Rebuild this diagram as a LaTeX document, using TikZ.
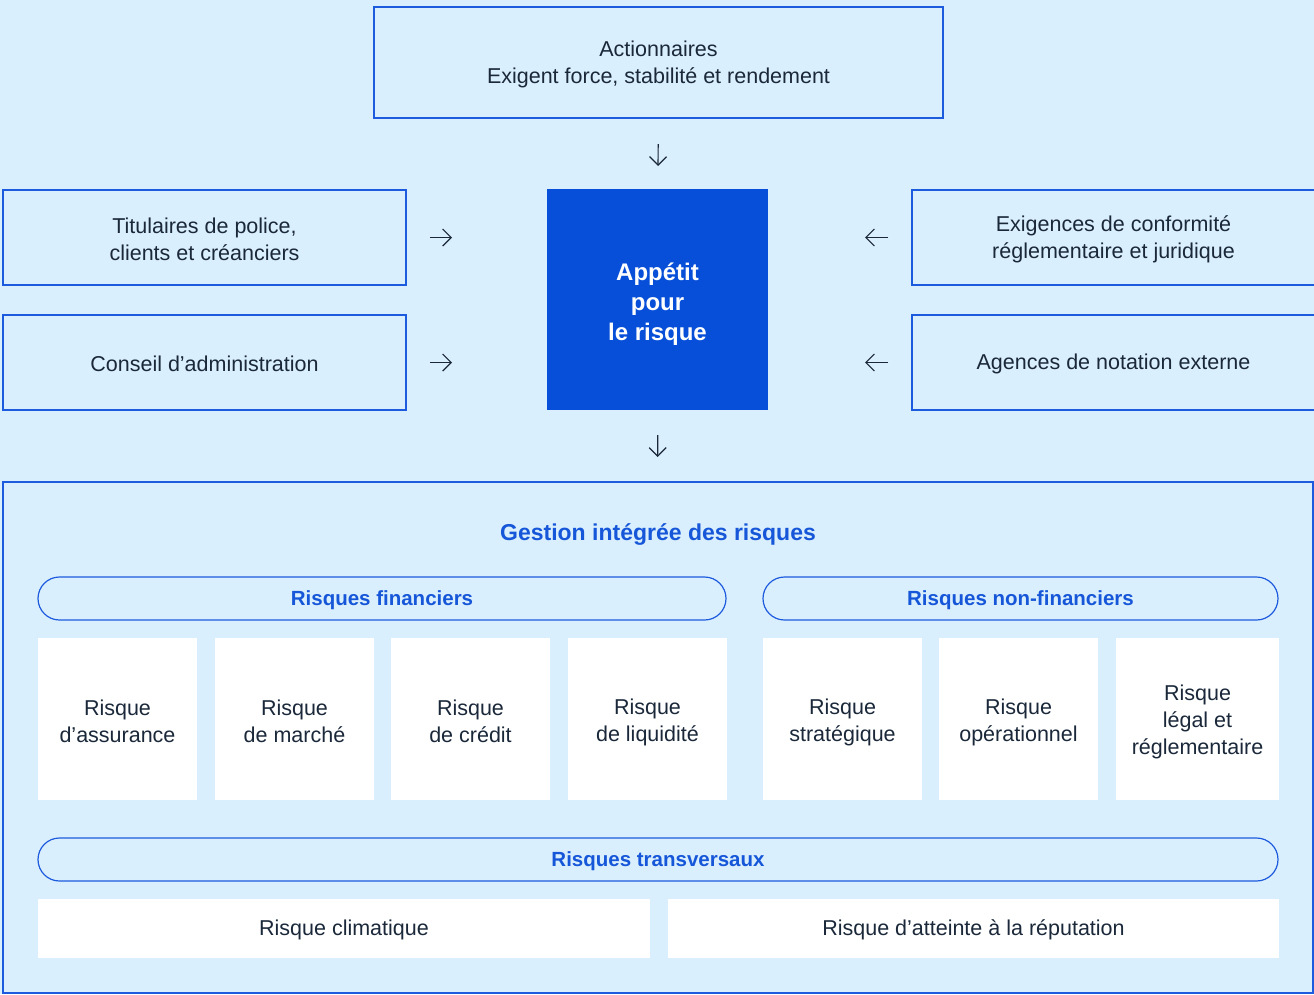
\documentclass[tikz,border=0pt]{standalone}
\usepackage{fontspec}
\setmainfont{Liberation Sans}
\usetikzlibrary{arrows.meta}
\definecolor{bgc}{RGB}{218,239,253}
\definecolor{bordc}{RGB}{28,90,222}
\definecolor{centc}{RGB}{7,79,216}
\definecolor{titc}{RGB}{22,86,216}
\definecolor{txtc}{RGB}{26,40,58}
\tikzset{
  box/.style={draw=bordc, line width=1.2pt, fill=bgc, inner sep=0pt, outer sep=0pt},
  centre/.style={fill=centc, inner sep=0pt, outer sep=0pt},
  pill/.style={draw=bordc, line width=1.2pt, fill=bgc, rounded corners=21.5pt, inner sep=0pt, outer sep=0pt},
  wbox/.style={fill=white, inner sep=0pt, outer sep=0pt},
  btext/.style={inner sep=0pt, align=center, text=txtc, font=\fontsize{21.5}{27}\selectfont},
  ctext/.style={inner sep=0pt, align=center, text=white, font=\fontsize{24}{30}\selectfont\bfseries},
  ptext/.style={inner sep=0pt, text=titc, font=\fontsize{20.5}{26}\selectfont\bfseries},
  arr/.style={draw=txtc, line width=1.2pt, -{Straight Barb[length=8.5pt,width=17pt,line width=1.2pt]}},
}
\begin{document}
\begin{tikzpicture}[x=1pt,y=-1pt]
\useasboundingbox (0,0) rectangle (1314,994);
\fill[bgc] (0,0) rectangle (1314,994);
% top
\node[box, minimum width=569pt, minimum height=111pt] (act) at (658.5,62.5) {};
\node[btext] (act-t) at ([yshift=-2pt]act.center) {Actionnaires\\Exigent force, stabilité et rendement};
\node[centre, minimum width=221pt, minimum height=221pt] (app) at (657.5,299.5) {};
\node[ctext] (app-t) at ([yshift=-5pt]app.center) {Appétit\\pour\\le risque};
\node[box, minimum width=403pt, minimum height=95pt] (tit) at (204.5,237.5) {};
\node[btext] (tit-t) at ([yshift=-1.5pt]tit.center) {Titulaires de police,\\clients et créanciers};
\node[box, minimum width=403pt, minimum height=95pt] (cons) at (204.5,362.5) {};
\node[btext] (cons-t) at ([yshift=-1pt]cons.center) {Conseil d’administration};
\node[box, minimum width=403pt, minimum height=95pt] (exi) at (1113.5,237.5) {};
\node[btext] (exi-t) at ([yshift=-2pt]exi.center) {Exigences de conformité\\réglementaire et juridique};
\node[box, minimum width=403pt, minimum height=95pt] (age) at (1113.5,362.5) {};
\node[btext] (age-t) at ([yshift=-1pt]age.center) {Agences de notation externe};
% container
\node[box, minimum width=1310pt, minimum height=511pt] (gest) at (658,737.5) {};
\node[text=titc, inner sep=0pt, font=\fontsize{23}{26}\selectfont\bfseries] (gtit) at (658,534) {Gestion intégrée des risques};
% arrows
\draw[arr, shorten <=26pt, shorten >=23pt] (act) -- (app);
\draw[arr, shorten <=25pt, shorten >=25pt] (app) -- (gest);
\draw[arr, shorten <=24pt, shorten >=95pt] (tit) -- (app.west |- tit);
\draw[arr, shorten <=24pt, shorten >=95pt] (cons) -- (app.west |- cons);
\draw[arr, shorten <=24pt, shorten >=97pt] (exi) -- (app.east |- exi);
\draw[arr, shorten <=24pt, shorten >=97pt] (age) -- (app.east |- age);
% pills
\node[pill, minimum width=688pt, minimum height=43pt] (fin) at (382,598.5) {};
\node[ptext] (fin-t) at ([yshift=-1.5pt]fin.center) {Risques financiers};
\node[pill, minimum width=515pt, minimum height=43pt] (nfin) at (1020.5,598.5) {};
\node[ptext] (nfin-t) at ([yshift=-1.5pt]nfin.center) {Risques non-financiers};
\node[pill, minimum width=1240pt, minimum height=43pt] (trans) at (658,859.5) {};
\node[ptext] (trans-t) at ([yshift=-1.5pt]trans.center) {Risques transversaux};
% white boxes
\node[wbox, minimum width=159pt, minimum height=162pt] (r1) at (117.5,719) {};
\node[btext] (r1-t) at ([yshift=-2pt]r1.center) {Risque\\d’assurance};
\node[wbox, minimum width=159pt, minimum height=162pt] (r2) at (294.5,719) {};
\node[btext] (r2-t) at ([yshift=-2pt]r2.center) {Risque\\de marché};
\node[wbox, minimum width=159pt, minimum height=162pt] (r3) at (470.5,719) {};
\node[btext] (r3-t) at ([yshift=-2pt]r3.center) {Risque\\de crédit};
\node[wbox, minimum width=159pt, minimum height=162pt] (r4) at (647.5,719) {};
\node[btext] (r4-t) at ([yshift=-3pt]r4.center) {Risque\\de liquidité};
\node[wbox, minimum width=159pt, minimum height=162pt] (r5) at (842.5,719) {};
\node[btext] (r5-t) at ([yshift=-3pt]r5.center) {Risque\\stratégique};
\node[wbox, minimum width=159pt, minimum height=162pt] (r6) at (1018.5,719) {};
\node[btext] (r6-t) at ([yshift=-3pt]r6.center) {Risque\\opérationnel};
\node[wbox, minimum width=163pt, minimum height=162pt] (r7) at (1197.5,719) {};
\node[btext] (r7-t) at ([yshift=-3pt]r7.center) {Risque\\légal et\\réglementaire};
\node[wbox, minimum width=612pt, minimum height=59pt] (c1) at (344,928.5) {};
\node[btext] (c1-t) at ([yshift=-1pt]c1.center) {Risque climatique};
\node[wbox, minimum width=611pt, minimum height=59pt] (c2) at (973.5,928.5) {};
\node[btext] (c2-t) at ([yshift=-1pt]c2.center) {Risque d’atteinte à la réputation};
\end{tikzpicture}
\end{document}
